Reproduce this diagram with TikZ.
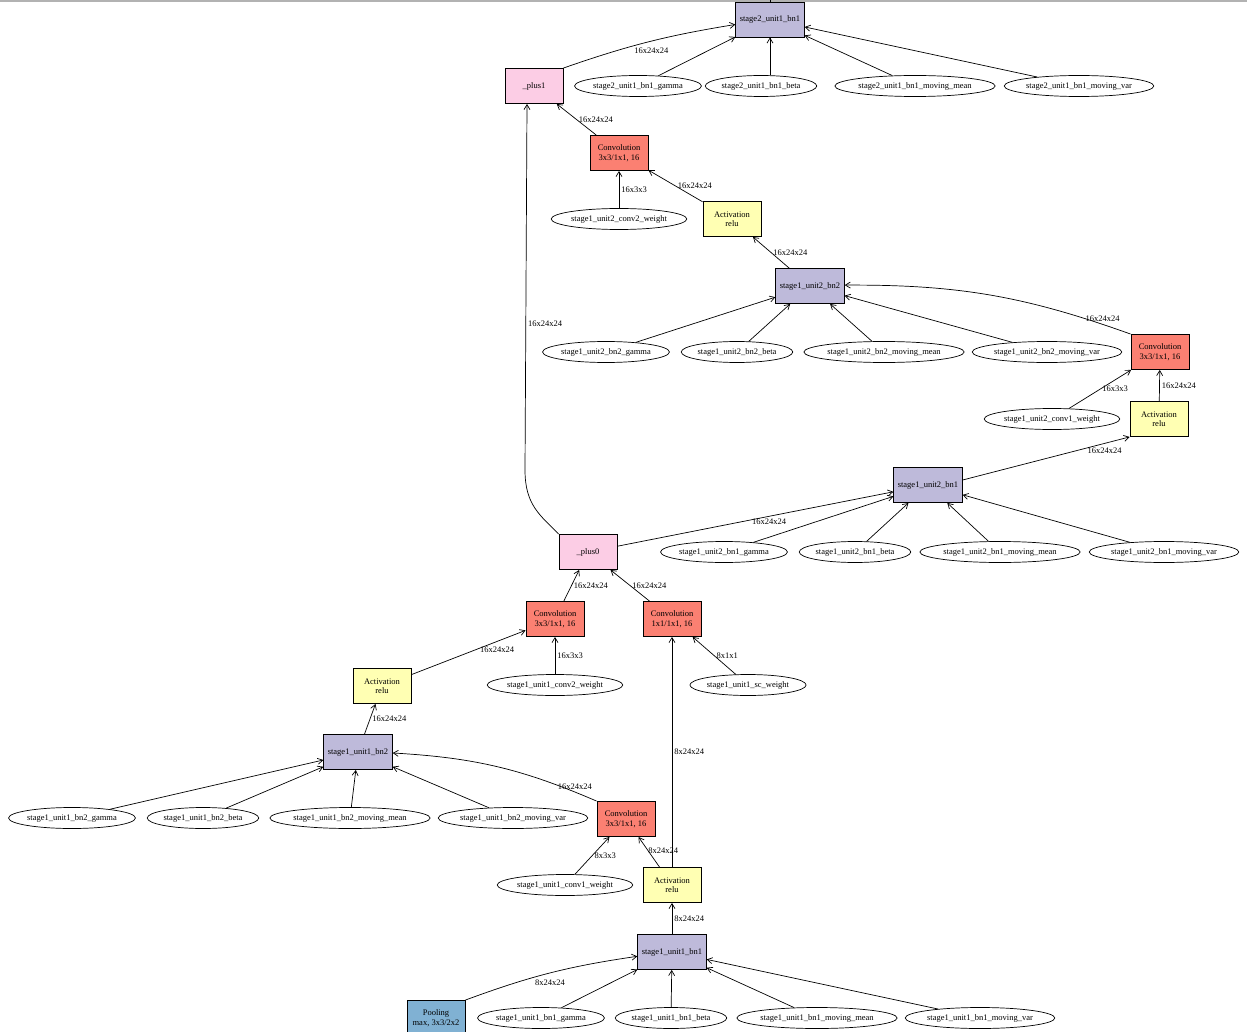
\documentclass[tikz,border=0pt]{standalone}
\usepackage{fontspec}
\setmainfont{Liberation Serif}
\usetikzlibrary{arrows.meta,shapes.geometric,positioning}

\definecolor{bnfill}{HTML}{BEBADA}
\definecolor{convfill}{HTML}{FB8072}
\definecolor{actfill}{HTML}{FFFFB3}
\definecolor{plusfill}{HTML}{FCCDE5}
\definecolor{poolfill}{HTML}{80B1D3}

\tikzset{
	opbox/.style = {draw, rectangle, line width=0.9pt, minimum width=58pt, minimum height=35pt,
		inner xsep=4pt, align=center, font=\fontsize{8.5}{9.5}\selectfont},
	bnbox/.style = {opbox, fill=bnfill},
	convbox/.style = {opbox, fill=convfill},
	actbox/.style = {opbox, fill=actfill},
	plusbox/.style = {opbox, fill=plusfill},
	poolbox/.style = {opbox, fill=poolfill},
	param/.style = {draw, ellipse, line width=0.7pt, inner xsep=0pt, inner ysep=1pt,
		minimum height=21pt, font=\fontsize{8.5}{9.5}\selectfont},
	flow/.style = {-{Straight Barb[length=5pt,width=6pt]}, line width=0.7pt},
	lbl/.style = {font=\fontsize{8.5}{9.5}\selectfont, inner sep=2pt},
}

\begin{document}
\begin{tikzpicture}[x=1pt, y=-1pt]

		\useasboundingbox (0,0) rectangle (1247,1032);
		\draw [gray!60, line width=1.5pt] (0,0.8) -- (1247,0.8);

			\node [bnbox] (s2bn) at (770,19.5) {stage2\_unit1\_bn1};
			\coordinate (topend) at (770,0);
			\node [param] (s2g) at (638,86) {stage2\_unit1\_bn1\_gamma};
			\node [param] (s2b) at (761,86) {stage2\_unit1\_bn1\_beta};
			\node [param] (s2m) at (915,86) {stage2\_unit1\_bn1\_moving\_mean};
			\node [param] (s2v) at (1079,86) {stage2\_unit1\_bn1\_moving\_var};
			\node [plusbox] (p1) at (534,86) {\_plus1};

			\node [convbox] (c4) at (619,153) {Convolution\\3x3/1x1, 16};
			\node [param] (w4) at (619,219) {stage1\_unit2\_conv2\_weight};
			\node [actbox] (a4) at (732,219) {Activation\\relu};

			\node [bnbox] (u2bn2) at (810,286) {stage1\_unit2\_bn2};
			\node [param] (u2g2) at (606,352) {stage1\_unit2\_bn2\_gamma};
			\node [param] (u2b2) at (737,352) {stage1\_unit2\_bn2\_beta};
			\node [param] (u2m2) at (884,352) {stage1\_unit2\_bn2\_moving\_mean};
			\node [param] (u2v2) at (1047,352) {stage1\_unit2\_bn2\_moving\_var};

			\node [convbox] (c3) at (1160,352) {Convolution\\3x3/1x1, 16};
			\node [param] (w3) at (1052,419) {stage1\_unit2\_conv1\_weight};
			\node [actbox] (a3) at (1159,419) {Activation\\relu};

			\node [bnbox] (u2bn1) at (928,485) {stage1\_unit2\_bn1};
			\node [param] (u2g1) at (724,552) {stage1\_unit2\_bn1\_gamma};
			\node [param] (u2b1) at (855,552) {stage1\_unit2\_bn1\_beta};
			\node [param] (u2m1) at (1000,552) {stage1\_unit2\_bn1\_moving\_mean};
			\node [param] (u2v1) at (1164,552) {stage1\_unit2\_bn1\_moving\_var};
			\node [plusbox] (p0) at (588,552) {\_plus0};

			\node [convbox] (c2) at (555,619) {Convolution\\3x3/1x1, 16};
			\node [convbox] (csc) at (672,619) {Convolution\\1x1/1x1, 16};
			\node [param] (w2) at (555,685) {stage1\_unit1\_conv2\_weight};
			\node [param] (wsc) at (748,685) {stage1\_unit1\_sc\_weight};
			\node [actbox] (a2) at (382,686) {Activation\\relu};

			\node [bnbox] (u1bn2) at (358,752) {stage1\_unit1\_bn2};
			\node [param] (u1g2) at (72,818) {stage1\_unit1\_bn2\_gamma};
			\node [param] (u1b2) at (203,818) {stage1\_unit1\_bn2\_beta};
			\node [param] (u1m2) at (350,818) {stage1\_unit1\_bn2\_moving\_mean};
			\node [param] (u1v2) at (513,818) {stage1\_unit1\_bn2\_moving\_var};

			\node [convbox] (c1) at (626,819) {Convolution\\3x3/1x1, 16};
			\node [param] (w1) at (565,885) {stage1\_unit1\_conv1\_weight};
			\node [actbox] (a1) at (672,885) {Activation\\relu};

			\node [bnbox] (u1bn1) at (672,952) {stage1\_unit1\_bn1};
			\node [poolbox] (pool) at (436,1018) {Pooling\\max, 3x3/2x2};
			\node [param] (u1g1) at (541,1018) {stage1\_unit1\_bn1\_gamma};
			\node [param] (u1b1) at (671,1018) {stage1\_unit1\_bn1\_beta};
			\node [param] (u1m1) at (817,1018) {stage1\_unit1\_bn1\_moving\_mean};
			\node [param] (u1v1) at (980,1018) {stage1\_unit1\_bn1\_moving\_var};

			\draw [line width=0.7pt] (s2bn) -- (topend);
			\draw [flow] (p1.north east) to [bend left=5] node [lbl, pos=.52, below=4pt] {16x24x24} (s2bn);
			\draw [flow] (s2g) -- (s2bn);
			\draw [flow] (s2b.north -| s2bn.south) -- (s2bn);
			\draw [flow] (s2m) -- (s2bn);
			\draw [flow] (s2v) -- (s2bn);
			\draw [flow] (c4) -- node [lbl, right] {16x24x24} (p1);
			\draw [flow] (p0.north west) .. controls (540,515) and (525,505) .. (525,470)
				-- node [lbl, pos=.4, right] {16x24x24} ([xshift=-7pt]p1.south);
			\draw [flow] (w4) -- node [lbl, right] {16x3x3} (c4);
			\draw [flow] (a4) -- node [lbl, right] {16x24x24} (c4);
			\draw [flow] (u2bn2) -- node [lbl, right] {16x24x24} (a4);
			\draw [flow] (u2g2) -- (u2bn2);
			\draw [flow] (u2b2) -- (u2bn2);
			\draw [flow] (u2m2) -- (u2bn2);
			\draw [flow] (u2v2) -- (u2bn2);
			\draw [flow] (c3.north west) to [bend right=10] node [lbl, pos=.09, above] {16x24x24} (u2bn2);
			\draw [flow] (w3) -- node [lbl, right] {16x3x3} (c3);
			\draw [flow] (a3) -- node [lbl, right] {16x24x24} (c3);
			\draw [flow] ([yshift=5pt]u2bn1.east) -- node [lbl, pos=.85, below=2pt] {16x24x24} (a3.south west);
			\draw [flow] (u2g1) -- (u2bn1);
			\draw [flow] (u2b1) -- (u2bn1);
			\draw [flow] (u2m1) -- (u2bn1);
			\draw [flow] (u2v1) -- (u2bn1);
			\draw [flow] (p0) -- node [lbl, pos=.55, below] {16x24x24} (u2bn1);
			\draw [flow] (c2) -- node [lbl, right] {16x24x24} (p0);
			\draw [flow] (csc) -- node [lbl, right] {16x24x24} (p0);
			\draw [flow] (a2) -- node [lbl, pos=.75, below=3pt] {16x24x24} (c2);
			\draw [flow] (w2) -- node [lbl, right] {16x3x3} (c2);
			\draw [flow] (wsc) -- node [lbl, right] {8x1x1} (csc);
			\draw [flow] (a1) -- node [lbl, right] {8x24x24} (csc);
			\draw [flow] (u1bn2) -- node [lbl, right] {16x24x24} (a2);
			\draw [flow] (u1g2) -- (u1bn2);
			\draw [flow] (u1b2) -- (u1bn2);
			\draw [flow] (u1m2) -- (u1bn2);
			\draw [flow] (u1v2) -- (u1bn2);
			\draw [flow] (c1.north west) to [bend right=10] node [lbl, pos=.1, above] {16x24x24} (u1bn2);
			\draw [flow] (w1) -- node [lbl, right] {8x3x3} (c1);
			\draw [flow] (a1) -- node [lbl, pos=.55, right=-2pt] {8x24x24} (c1);
			\draw [flow] (u1bn1) -- node [lbl, right] {8x24x24} (a1);
			\draw [flow] (pool.north east) to [bend left=6] node [lbl, pos=.5, below=5pt] {8x24x24} (u1bn1);
			\draw [flow] (u1g1) -- (u1bn1);
			\draw [flow] (u1b1) -- (u1bn1);
			\draw [flow] (u1m1) -- (u1bn1);
			\draw [flow] (u1v1) -- (u1bn1);

\end{tikzpicture}
\end{document}
